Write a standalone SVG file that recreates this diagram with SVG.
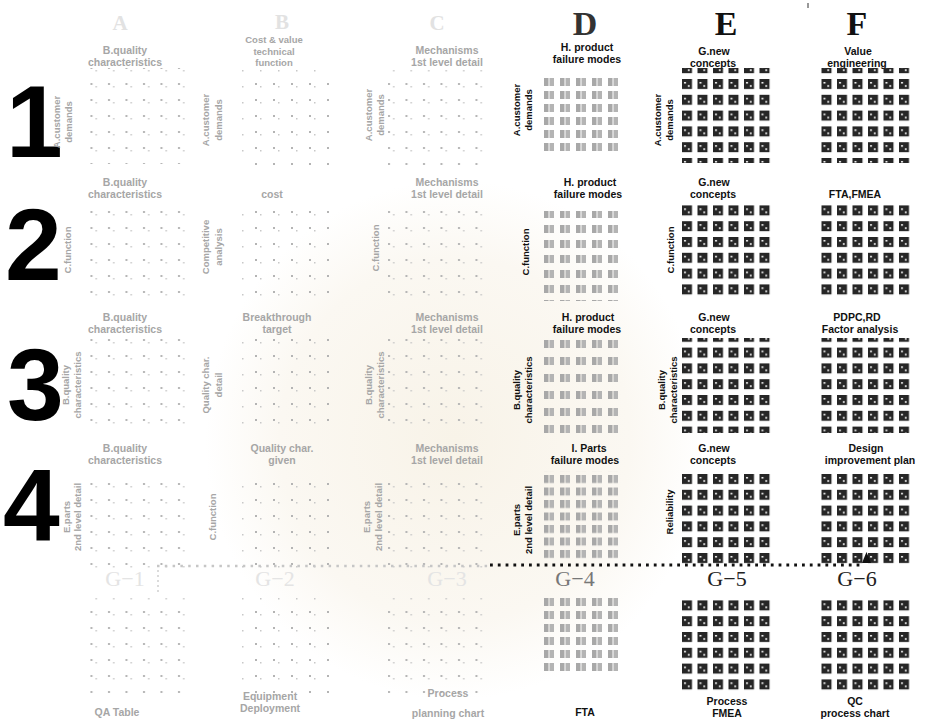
<svg xmlns="http://www.w3.org/2000/svg" width="926" height="721" viewBox="0 0 926 721">
<defs>
<style>
.t{font-family:"Liberation Sans",Arial,sans-serif;font-weight:bold;font-size:10.5px;text-anchor:middle;fill:#111}
.s{font-size:9.5px}
.r{font-family:"Liberation Sans",Arial,sans-serif;font-weight:bold;font-size:9.5px;text-anchor:middle;dominant-baseline:central;fill:#111}
.f{fill:#a6a6a6}
.L{font-family:"Liberation Serif","Times New Roman",serif;font-weight:bold;font-size:34px;text-anchor:middle;fill:#111}
.l{fill:#e2e2e2;font-size:21px}
.G{font-family:"Liberation Serif","Times New Roman",serif;font-size:22px;text-anchor:middle;fill:#222}
.N{font-family:"Liberation Sans",Arial,sans-serif;font-weight:bold;font-size:102px;fill:#000}
</style>
<radialGradient id="wm" cx="0.5" cy="0.5" r="0.5">
<stop offset="0" stop-color="#f8f3e8"/>
<stop offset="0.7" stop-color="#fbf8f2"/>
<stop offset="1" stop-color="#ffffff"/>
</radialGradient>
<pattern id="pE" width="15.5" height="15.8" patternUnits="userSpaceOnUse">
<rect width="10" height="10" fill="#262626"/>
<rect x="2" y="3" width="2" height="1.5" fill="#fff"/>
<rect x="6" y="6" width="1.5" height="2" fill="#fff"/>
</pattern>
<pattern id="pD13" width="16" height="13" patternUnits="userSpaceOnUse">
<rect width="4.5" height="8" fill="#a8a8a8"/><rect x="5.5" width="4.5" height="8" fill="#b4b4b4"/>
</pattern>
<pattern id="pD15" width="16" height="15" patternUnits="userSpaceOnUse">
<rect width="4.5" height="8" fill="#a8a8a8"/><rect x="5.5" width="4.5" height="8" fill="#b4b4b4"/>
</pattern>
<pattern id="pD17" width="16" height="17" patternUnits="userSpaceOnUse">
<rect width="4.5" height="8" fill="#a8a8a8"/><rect x="5.5" width="4.5" height="8" fill="#b4b4b4"/>
</pattern>
<pattern id="pD12" width="16" height="12.5" patternUnits="userSpaceOnUse">
<rect width="4.5" height="8" fill="#a8a8a8"/><rect x="5.5" width="4.5" height="8" fill="#b4b4b4"/>
</pattern>
<pattern id="pA" width="17.5" height="16" patternUnits="userSpaceOnUse">
<rect x="3" y="3" width="2" height="2" fill="#b4b4b4"/><rect x="8" y="6" width="1.5" height="1.5" fill="#c8c8c8"/>
</pattern>
<pattern id="pB" width="18" height="16" patternUnits="userSpaceOnUse">
<rect x="3" y="3" width="2" height="2" fill="#b4b4b4"/><rect x="8" y="6" width="1.5" height="1.5" fill="#c8c8c8"/>
</pattern>
</defs>
<rect width="926" height="721" fill="#fff"/>
<ellipse cx="455" cy="440" rx="250" ry="260" fill="url(#wm)"/>
<line x1="808" y1="3" x2="808" y2="8" stroke="#333" stroke-width="1"/>

<g id="col-letters">
<text class="L l" x="120" y="30">A</text>
<text class="L l" x="282" y="29">B</text>
<text class="L l" x="437" y="30">C</text>
<text class="L" x="585" y="35" style="fill:#333">D</text>
<text class="L" x="726" y="35">E</text>
<text class="L" x="857" y="35">F</text>
</g>

<g id="row-numbers">
<text class="N" x="6" y="157">1</text>
<text class="N" x="5" y="280">2</text>
<text class="N" x="7" y="420">3</text>
<text class="N" x="3" y="540">4</text>
</g>

<g id="A1">
<text class="t f" x="125" y="54">B.quality</text>
<text class="t f" x="125" y="66">characteristics</text>
<text class="r f" transform="translate(56,122) rotate(-90)">A.customer</text>
<text class="r f" transform="translate(68,122) rotate(-90)">demands</text>
<rect x="80" y="68" width="105" height="96" fill="url(#pA)"/>
</g>
<g id="A2">
<text class="t f" x="125" y="186">B.quality</text>
<text class="t f" x="125" y="198">characteristics</text>
<text class="r f" transform="translate(67,250) rotate(-90)">C.function</text>
<rect x="80" y="205" width="105" height="96" fill="url(#pA)"/>
</g>
<g id="A3">
<text class="t f" x="125" y="321">B.quality</text>
<text class="t f" x="125" y="333">characteristics</text>
<text class="r f" transform="translate(65,385) rotate(-90)">B.quality</text>
<text class="r f" transform="translate(77,385) rotate(-90)">characteristics</text>
<rect x="82" y="338" width="105" height="96" fill="url(#pA)"/>
</g>
<g id="A4">
<text class="t f" x="125" y="452">B.quality</text>
<text class="t f" x="125" y="464">characteristics</text>
<text class="r f" transform="translate(66,517) rotate(-90)">E.parts</text>
<text class="r f" transform="translate(77,517) rotate(-90)">2nd level detail</text>
<rect x="82" y="472" width="105" height="96" fill="url(#pA)"/>
</g>

<g id="B1">
<text class="t f s" x="274" y="43">Cost &amp; value</text>
<text class="t f s" x="274" y="54.5">technical</text>
<text class="t f s" x="274" y="66">function</text>
<text class="r f" transform="translate(205,120) rotate(-90)">A.customer</text>
<text class="r f" transform="translate(218,120) rotate(-90)">demands</text>
<rect x="240" y="70" width="90" height="96" fill="url(#pB)"/>
</g>
<g id="B2">
<text class="t f" x="272" y="198">cost</text>
<text class="r f" transform="translate(205,247) rotate(-90)">Competitive</text>
<text class="r f" transform="translate(218,247) rotate(-90)">analysis</text>
<rect x="240" y="205" width="90" height="96" fill="url(#pB)"/>
</g>
<g id="B3">
<text class="t f" x="277" y="321">Breakthrough</text>
<text class="t f" x="277" y="333">target</text>
<text class="r f" transform="translate(205,385) rotate(-90)">Quality char.</text>
<text class="r f" transform="translate(218,385) rotate(-90)">detail</text>
<rect x="240" y="338" width="90" height="96" fill="url(#pB)"/>
</g>
<g id="B4">
<text class="t f" x="282" y="452">Quality char.</text>
<text class="t f" x="282" y="464">given</text>
<text class="r f" transform="translate(212,517) rotate(-90)">C.function</text>
<rect x="240" y="472" width="90" height="96" fill="url(#pB)"/>
</g>

<g id="C1">
<text class="t f" x="447" y="54">Mechanisms</text>
<text class="t f" x="447" y="66">1st level detail</text>
<text class="r f" transform="translate(368,115) rotate(-90)">A.customer</text>
<text class="r f" transform="translate(380,115) rotate(-90)">demands</text>
<rect x="388" y="70" width="102" height="96" fill="url(#pA)"/>
</g>
<g id="C2">
<text class="t f" x="447" y="186">Mechanisms</text>
<text class="t f" x="447" y="198">1st level detail</text>
<text class="r f" transform="translate(375,248) rotate(-90)">C.function</text>
<rect x="388" y="205" width="102" height="96" fill="url(#pA)"/>
</g>
<g id="C3">
<text class="t f" x="447" y="321">Mechanisms</text>
<text class="t f" x="447" y="333">1st level detail</text>
<text class="r f" transform="translate(368,385) rotate(-90)">B.quality</text>
<text class="r f" transform="translate(380,385) rotate(-90)">characteristics</text>
<rect x="388" y="338" width="102" height="96" fill="url(#pA)"/>
</g>
<g id="C4">
<text class="t f" x="447" y="452">Mechanisms</text>
<text class="t f" x="447" y="464">1st level detail</text>
<text class="r f" transform="translate(366,517) rotate(-90)">E.parts</text>
<text class="r f" transform="translate(378,517) rotate(-90)">2nd level detail</text>
<rect x="388" y="472" width="102" height="96" fill="url(#pA)"/>
</g>

<g id="D1">
<text class="t" x="587" y="51">H. product</text>
<text class="t" x="587" y="63">failure modes</text>
<text class="r" transform="translate(516,110) rotate(-90)">A.customer</text>
<text class="r" transform="translate(528,110) rotate(-90)">demands</text>
<rect x="538" y="74" width="80" height="78" fill="url(#pD13)"/>
</g>
<g id="D2">
<text class="t" x="590" y="186">H. product</text>
<text class="t" x="588" y="198">failure modes</text>
<text class="r" transform="translate(525,252) rotate(-90)">C.function</text>
<rect x="538" y="211" width="80" height="90" fill="url(#pD15)"/>
</g>
<g id="D3">
<text class="t" x="588" y="321">H. product</text>
<text class="t" x="587" y="333">failure modes</text>
<text class="r" transform="translate(516,390) rotate(-90)">B.quality</text>
<text class="r" transform="translate(528,390) rotate(-90)">characteristics</text>
<rect x="538" y="337" width="80" height="102" fill="url(#pD17)"/>
</g>
<g id="D4">
<text class="t" x="589" y="452">I. Parts</text>
<text class="t" x="585" y="464">failure modes</text>
<text class="r" transform="translate(516,520) rotate(-90)">E.parts</text>
<text class="r" transform="translate(528,520) rotate(-90)">2nd level detail</text>
<rect x="538" y="471" width="80" height="87.5" fill="url(#pD12)"/>
</g>

<g id="E1">
<text class="t" x="714" y="55">G.new</text>
<text class="t" x="713" y="67">concepts</text>
<text class="r" transform="translate(657,120) rotate(-90)">A.customer</text>
<text class="r" transform="translate(669,120) rotate(-90)">demands</text>
<rect x="682" y="68" width="93" height="95" fill="url(#pE)"/>
</g>
<g id="E2">
<text class="t" x="714" y="186">G.new</text>
<text class="t" x="713" y="198">concepts</text>
<text class="r" transform="translate(670,250) rotate(-90)">C.function</text>
<rect x="682" y="205" width="93" height="95" fill="url(#pE)"/>
</g>
<g id="E3">
<text class="t" x="714" y="321">G.new</text>
<text class="t" x="713" y="333">concepts</text>
<text class="r" transform="translate(661,390) rotate(-90)">B.quality</text>
<text class="r" transform="translate(673,390) rotate(-90)">characteristics</text>
<rect x="682" y="338" width="93" height="95" fill="url(#pE)"/>
</g>
<g id="E4">
<text class="t" x="714" y="452">G.new</text>
<text class="t" x="713" y="464">concepts</text>
<text class="r" transform="translate(669,512) rotate(-90)">Reliability</text>
<rect x="682" y="472" width="93" height="95" fill="url(#pE)"/>
</g>

<g id="F1">
<text class="t" x="858" y="55">Value</text>
<text class="t" x="857" y="67">engineering</text>
<rect x="818" y="68" width="93" height="95" fill="url(#pE)"/>
</g>
<g id="F2">
<text class="t" x="855" y="198">FTA,FMEA</text>
<rect x="818" y="205" width="93" height="95" fill="url(#pE)"/>
</g>
<g id="F3">
<text class="t" x="857" y="321">PDPC,RD</text>
<text class="t" x="860" y="333">Factor analysis</text>
<rect x="818" y="338" width="93" height="95" fill="url(#pE)"/>
</g>
<g id="F4">
<text class="t" x="866" y="452">Design</text>
<text class="t" x="870" y="464">improvement plan</text>
<rect x="818" y="472" width="93" height="95" fill="url(#pE)"/>
</g>

<g id="G1">
<text class="G" x="125" y="586" style="fill:#e4e4e4">G−1</text>
<rect x="80" y="597" width="105" height="96" fill="url(#pA)"/>
<text class="t f" x="117" y="716">QA Table</text>
</g>
<g id="G2">
<text class="G" x="275" y="586" style="fill:#e4e4e4">G−2</text>
<rect x="240" y="597" width="90" height="96" fill="url(#pB)"/>
<text class="t f" x="270" y="700">Equipment</text>
<text class="t f" x="270" y="712">Deployment</text>
</g>
<g id="G3">
<text class="G" x="447" y="586" style="fill:#e4e4e4">G−3</text>
<rect x="388" y="597" width="102" height="96" fill="url(#pA)"/>
<text class="t f" x="448" y="697">Process</text>
<text class="t f" x="448" y="717">planning chart</text>
</g>
<g id="G4">
<text class="G" x="575" y="586" style="fill:#777">G−4</text>
<rect x="538" y="594" width="80" height="78" fill="url(#pD13)"/>
<text class="t" x="585" y="716">FTA</text>
</g>
<g id="G5">
<text class="G" x="727" y="586">G−5</text>
<rect x="682" y="597" width="93" height="95" fill="url(#pE)"/>
<text class="t" x="727" y="705">Process</text>
<text class="t" x="727" y="717">FMEA</text>
</g>
<g id="G6">
<text class="G" x="857" y="586">G−6</text>
<rect x="818" y="597" width="93" height="95" fill="url(#pE)"/>
<text class="t" x="855" y="705">QC</text>
<text class="t" x="855" y="717">process chart</text>
</g>

<g id="connectors">
<line x1="157" y1="566" x2="490" y2="566" stroke="#c6c6c6" stroke-width="2.5" stroke-dasharray="2.5 5.3"/>
<line x1="490" y1="565" x2="863" y2="565" stroke="#111" stroke-width="2.8" stroke-dasharray="2.8 5"/>
<path d="M862 563 L866.5 552 L871 563 Z" fill="#111"/>
<line x1="158" y1="570" x2="158" y2="592" stroke="#cfcfcf" stroke-width="1.5" stroke-dasharray="2 3"/>
</g>
</svg>
